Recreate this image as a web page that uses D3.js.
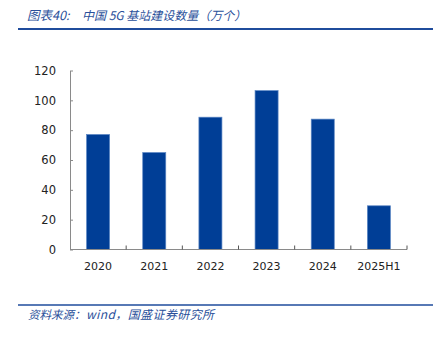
<!DOCTYPE html>
<html>
<head>
<meta charset="utf-8">
<script src="https://cdn.jsdelivr.net/npm/d3@7"></script>
<style>
  html, body { margin: 0; padding: 0; background: #fff; }
  svg { display: block; }
</style>
</head>
<body>
<svg id="chart" width="440" height="339"></svg>
<script>
// 中国 5G 基站建设数量（万个）
const categories = ["2020", "2021", "2022", "2023", "2024", "2025H1"];
const values = [77.1, 65.0, 88.7, 106.5, 87.4, 29.3];
const yTicks = [0, 20, 40, 60, 80, 100, 120];
const titleLabel = "图表40:";
const titleText = "中国 5G 基站建设数量（万个）";
const sourceLabel = "资料来源：";
const sourceText = "wind，国盛证券研究所";

const svg = d3.select("#chart");
const plot = { left: 70, right: 407, top: 70.5, bottom: 249.5 };
const blue = "#1f4c9c";
const textBlue = "#2a4f9a";
const cjk = "'Noto Sans CJK SC', 'DejaVu Sans', sans-serif";

// header
svg.append("text")
  .attr("x", 27).attr("y", 20)
  .attr("font-family", cjk).attr("font-size", 12.5)
  .attr("font-style", "italic").attr("fill", textBlue)
  .text(titleLabel);
svg.append("text")
  .attr("x", 82).attr("y", 20)
  .attr("font-family", cjk).attr("font-size", 12)
  .attr("font-style", "italic").attr("fill", textBlue)
  .text(titleText);
svg.append("line")
  .attr("x1", 18).attr("x2", 433).attr("y1", 29).attr("y2", 29)
  .attr("stroke", blue).attr("stroke-width", 2);

// scales
const x = d3.scaleBand().domain(categories)
  .range([plot.left, plot.right]).paddingInner(0.59).paddingOuter(0.295);
const xOuter = d3.scaleBand().domain(categories).range([plot.left, plot.right]);
const y = d3.scaleLinear().domain([0, 120]).range([plot.bottom, plot.top]);

// bars
svg.append("g").selectAll("rect").data(values).join("rect")
  .attr("x", (d, i) => x(categories[i]))
  .attr("width", x.bandwidth())
  .attr("y", d => y(d))
  .attr("height", d => y(0) - y(d))
  .attr("fill", "#003e96")
  .attr("stroke", "#5b86c4").attr("stroke-width", 0.7);

// y axis
const yAxis = d3.axisLeft(y).tickValues(yTicks).tickSizeInner(-3).tickSizeOuter(0).tickPadding(14);
const gy = svg.append("g").attr("transform", `translate(${plot.left},0)`).call(yAxis);
gy.select(".domain").attr("stroke", "#8a8a8a");
gy.selectAll(".tick line").attr("stroke", "#8a8a8a");
gy.selectAll("text").attr("font-family", "'DejaVu Sans', sans-serif")
  .attr("font-size", 11.5).attr("fill", "#222");

// x axis: ticks between categories
const gx = svg.append("g").attr("transform", `translate(0,${plot.bottom})`);
gx.append("line").attr("x1", plot.left).attr("x2", plot.right)
  .attr("stroke", "#8a8a8a");
const bounds = categories.map(c => xOuter(c) + xOuter.bandwidth());
gx.selectAll("line.sep").data(bounds).join("line").attr("class", "sep")
  .attr("x1", d => d).attr("x2", d => d).attr("y1", 0).attr("y2", -4)
  .attr("stroke", "#555");
gx.selectAll("text").data(categories).join("text")
  .attr("x", d => xOuter(d) + xOuter.bandwidth() / 2)
  .attr("y", 20)
  .attr("text-anchor", "middle")
  .attr("font-family", "'DejaVu Sans', sans-serif")
  .attr("font-size", 11).attr("fill", "#222")
  .text(d => d);

// footer
svg.append("line")
  .attr("x1", 18).attr("x2", 433).attr("y1", 305).attr("y2", 305)
  .attr("stroke", blue).attr("stroke-width", 1.5);
svg.append("text")
  .attr("x", 28).attr("y", 319)
  .attr("font-family", cjk).attr("font-size", 11.5)
  .attr("font-style", "italic").attr("fill", textBlue)
  .text(sourceLabel);
svg.append("text")
  .attr("x", 86).attr("y", 319)
  .attr("font-family", cjk).attr("font-size", 12)
  .attr("font-style", "italic").attr("fill", textBlue)
  .attr("letter-spacing", 0.4)
  .text(sourceText);
</script>
</body>
</html>
